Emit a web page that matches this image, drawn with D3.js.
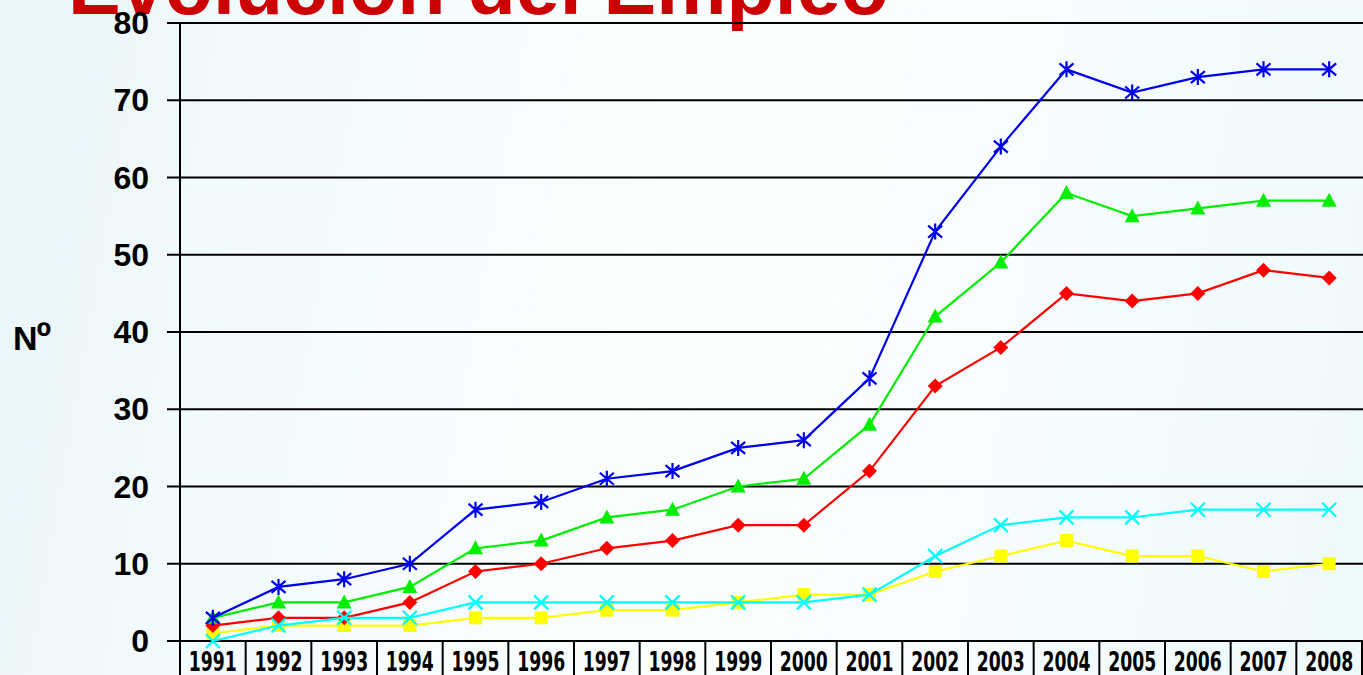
<!DOCTYPE html>
<html>
<head>
<meta charset="utf-8">
<script src="https://cdn.jsdelivr.net/npm/d3@7"></script>
<style>
  html, body { margin: 0; padding: 0; }
  body { width: 1363px; height: 675px; overflow: hidden;
    background: linear-gradient(100deg, #eaf6fa 0%, #f6fcfd 30%, #fbfeff 60%, #eef9fb 100%); }
  svg { display: block; }
</style>
</head>
<body>
<svg id="chart" width="1363" height="675"></svg>
<script>
const years = ["1991","1992","1993","1994","1995","1996","1997","1998","1999","2000","2001","2002","2003","2004","2005","2006","2007","2008"];
const yTicks = [0,10,20,30,40,50,60,70,80];
const blueValues   = [3,7,8,10,17,18,21,22,25,26,34,53,64,74,71,73,74,74];
const greenValues  = [3,5,5,7,12,13,16,17,20,21,28,42,49,58,55,56,57,57];
const redValues    = [2,3,3,5,9,10,12,13,15,15,22,33,38,45,44,45,48,47];
const cyanValues   = [0,2,3,3,5,5,5,5,5,5,6,11,15,16,16,17,17,17];
const yellowValues = [1,2,2,2,3,3,4,4,5,6,6,9,11,13,11,11,9,10];
const titleText = "Evolución del Empleo";
const yLabel = "Nº";

const series = [
  {name:"yellow", values: yellowValues, color:"#ffff00", marker:"square"},
  {name:"red",    values: redValues,    color:"#ff0000", marker:"diamond"},
  {name:"green",  values: greenValues,  color:"#00ee00", marker:"triangle"},
  {name:"cyan",   values: cyanValues,   color:"#00ffff", marker:"x"},
  {name:"blue",   values: blueValues,   color:"#0000ee", marker:"asterisk"}
];

const svg = d3.select("#chart");
const x = d3.scaleBand().domain(years).range([180, 1362]);
const y = d3.scaleLinear().domain([0, 80]).range([641, 23]);

// title (partly cut off at top)
svg.append("text")
  .attr("x", 68).attr("y", 14)
  .attr("font-family", "Liberation Sans, Arial, sans-serif")
  .attr("font-weight", "bold").attr("font-size", 79)
  .attr("fill", "#cc0000")
  .text(titleText);

// gridlines
svg.append("g").selectAll("line").data(yTicks).join("line")
  .attr("x1", 167).attr("x2", 1363)
  .attr("y1", d => y(d)).attr("y2", d => y(d))
  .attr("stroke", "#000").attr("stroke-width", 2);

// y-axis line
svg.append("line").attr("x1", 180).attr("x2", 180)
  .attr("y1", y(80)).attr("y2", 675)
  .attr("stroke", "#000").attr("stroke-width", 2);

// y tick labels
svg.append("g").selectAll("text").data(yTicks).join("text")
  .attr("x", 149).attr("y", d => y(d) + 11)
  .attr("text-anchor", "end")
  .attr("font-family", "Liberation Sans, Arial, sans-serif")
  .attr("font-weight", "bold").attr("font-size", 32)
  .attr("fill", "#000")
  .text(d => d);

// y label
const yl = svg.append("text")
  .attr("x", 13).attr("y", 350)
  .attr("font-family", "Liberation Sans, Arial, sans-serif")
  .attr("font-weight", "bold").attr("font-size", 34)
  .attr("fill", "#000");
yl.append("tspan").text("N");
yl.append("tspan").attr("font-size", 40).attr("dx", -1).text("º");

// category dividers below axis
const bounds = years.map(d => x(d)).concat([x(years[years.length-1]) + x.bandwidth()]);
svg.append("g").selectAll("line").data(bounds.slice(1)).join("line")
  .attr("x1", d => d).attr("x2", d => d)
  .attr("y1", y(0)).attr("y2", 675)
  .attr("stroke", "#000").attr("stroke-width", 2);

// x labels
svg.append("g").selectAll("text").data(years).join("text")
  .attr("x", d => x(d) + x.bandwidth()/2 - 24).attr("y", 671)
  .attr("font-family", "DejaVu Sans, Liberation Sans, sans-serif")
  .attr("font-weight", "bold").attr("font-size", 26)
  .attr("textLength", 48).attr("lengthAdjust", "spacingAndGlyphs")
  .attr("fill", "#000")
  .text(d => d);

const cx = d => x(d) + x.bandwidth()/2;

const line = d3.line().x((v, i) => cx(years[i])).y(v => y(v));

function markerPath(type) {
  switch (type) {
    case "square": return "M-6.5,-6.5H6.5V6.5H-6.5Z";
    case "diamond": return "M0,-7.5L7.5,0L0,7.5L-7.5,0Z";
    case "triangle": return "M0,-8L7.5,6L-7.5,6Z";
    case "x": return "M-7,-7L7,7M-7,7L7,-7";
    case "asterisk": return "M0,-8V8M-7,-6L7,6M-7,6L7,-6";
  }
}

series.forEach(s => {
  const g = svg.append("g");
  g.append("path").datum(s.values)
    .attr("d", line)
    .attr("fill", "none").attr("stroke", s.color).attr("stroke-width", 2.2);
  const stroked = s.marker === "x" || s.marker === "asterisk";
  g.selectAll("path.m").data(s.values).join("path")
    .attr("class", "m")
    .attr("transform", (v, i) => `translate(${cx(years[i])},${y(v)})`)
    .attr("d", markerPath(s.marker))
    .attr("fill", stroked ? "none" : s.color)
    .attr("stroke", s.color)
    .attr("stroke-width", stroked ? 2.2 : 0);
});
</script>
</body>
</html>
